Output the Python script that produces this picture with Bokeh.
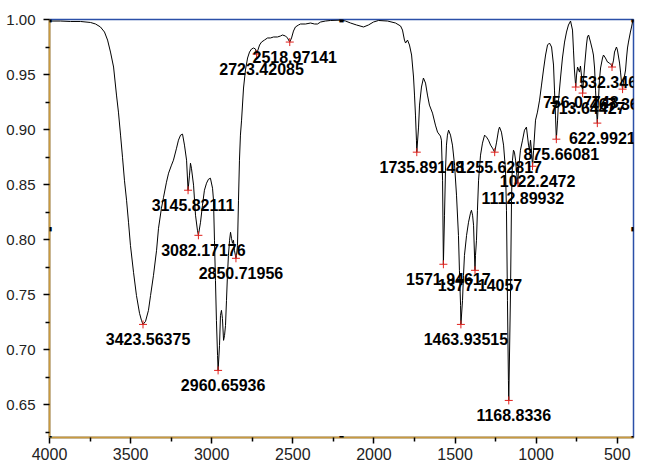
from bokeh.plotting import figure
from bokeh.models import Range1d, FixedTicker, PrintfTickFormatter, Label
from bokeh.core.properties import value
from bokeh.embed import file_html
from bokeh.resources import INLINE

# ---- spectrum (wavenumber in cm-1, transmittance) ----
wavenumber = [
    4000, 3932, 3871, 3809, 3747, 3716, 3686, 3661, 3642, 3624, 3605, 3587, 3575, 3562, 3550,
    3538, 3525, 3513, 3501, 3482, 3464, 3445, 3433, 3423.56, 3408, 3390, 3377, 3359, 3340, 3328,
    3310, 3297, 3279, 3266, 3248, 3236, 3217, 3205, 3192, 3180, 3168, 3155, 3145.82, 3137, 3131,
    3125, 3112, 3100, 3088, 3082.17, 3069, 3057, 3045, 3032, 3020, 3008, 2995, 2989, 2983, 2977,
    2971, 2964, 2960.66, 2952, 2946, 2940, 2934, 2927, 2921, 2915, 2909, 2903, 2897, 2890, 2884,
    2878, 2872, 2866, 2860, 2850.72, 2847, 2841, 2835, 2829, 2823, 2816, 2804, 2792, 2779, 2767,
    2755, 2742, 2730, 2723.42, 2705, 2693, 2675, 2656, 2638, 2619, 2595, 2576, 2564, 2545, 2533,
    2518.97, 2508, 2496, 2484, 2465, 2453, 2422, 2391, 2366, 2348, 2329, 2299, 2268, 2206, 2175,
    2144, 2107, 2064, 2034, 2003, 1972, 1916, 1867, 1836, 1824, 1812, 1805, 1793, 1781, 1768,
    1756, 1750, 1744, 1738, 1735.89, 1725, 1719, 1707, 1695, 1682, 1670, 1658, 1639, 1621, 1608,
    1590, 1584, 1577, 1571.95, 1565, 1559, 1553, 1547, 1540, 1528, 1516, 1503, 1491, 1479, 1473,
    1466, 1463.94, 1454, 1448, 1442, 1429, 1417, 1405, 1399, 1392, 1386, 1377.14, 1374, 1368, 1362,
    1355, 1343, 1331, 1318, 1306, 1294, 1281, 1269, 1255.63, 1244, 1232, 1226, 1214, 1201, 1189,
    1183, 1177, 1171, 1168.83, 1158, 1152, 1146, 1140, 1134, 1127, 1121, 1112.9, 1109, 1097, 1084,
    1072, 1060, 1047, 1041, 1035, 1029, 1022.25, 1016, 1004, 992, 979, 967, 955, 942, 930,
    918, 905, 893, 887, 881, 875.66, 868, 862, 850, 838, 825, 813, 801, 788, 776,
    770, 764, 756.08, 751, 745, 733, 727, 721, 713.64, 708, 702, 690, 684, 677, 665,
    653, 647, 640, 634, 628, 622.99, 616, 610, 603, 591, 585, 573, 560, 548, 536,
    532.35, 523, 517, 505, 499, 493, 486, 480, 474, 467.36, 462, 449, 443, 437, 431,
    419, 412, 406, 400,
]
transmittance = [
    0.9986, 0.9986, 0.9982, 0.9982, 0.9973, 0.9959, 0.9932, 0.9886, 0.9813, 0.9704, 0.9568, 0.9313, 0.9158, 0.8949, 0.8748,
    0.8539, 0.8357, 0.8157, 0.7947, 0.7702, 0.7492, 0.7329, 0.7265, 0.7228, 0.7256, 0.7356, 0.7492, 0.7675, 0.7902, 0.8102,
    0.8284, 0.8384, 0.8521, 0.8603, 0.8676, 0.8721, 0.8830, 0.8903, 0.8949, 0.8958, 0.8858, 0.8721, 0.8448, 0.8585, 0.8694,
    0.8648, 0.8494, 0.8221, 0.8084, 0.8038, 0.8157, 0.8312, 0.8448, 0.8512, 0.8548, 0.8557, 0.8466, 0.8357, 0.7993, 0.7629,
    0.7265, 0.6946, 0.6810, 0.7037, 0.7310, 0.7356, 0.7283, 0.7083, 0.7128, 0.7219, 0.7447, 0.7675, 0.7856, 0.7993, 0.8066,
    0.8011, 0.7966, 0.7993, 0.7902, 0.7829, 0.7856, 0.7947, 0.8357, 0.8721, 0.8949, 0.9085, 0.9377, 0.9541, 0.9650, 0.9704,
    0.9731, 0.9741, 0.9731, 0.9686, 0.9768, 0.9795, 0.9813, 0.9832, 0.9832, 0.9841, 0.9841, 0.9850, 0.9859, 0.9850, 0.9832,
    0.9795, 0.9832, 0.9895, 0.9932, 0.9950, 0.9959, 0.9959, 0.9968, 0.9959, 0.9959, 0.9977, 0.9986, 0.9991, 0.9995, 0.9986,
    0.9968, 0.9950, 0.9932, 0.9950, 0.9977, 0.9991, 0.9986, 0.9968, 0.9941, 0.9904, 0.9813, 0.9786, 0.9813, 0.9768, 0.9677,
    0.9477, 0.9313, 0.9131, 0.8903, 0.8794, 0.9022, 0.9222, 0.9386, 0.9468, 0.9422, 0.9313, 0.9222, 0.9149, 0.9040, 0.8976,
    0.8940, 0.8903, 0.8539, 0.7775, 0.8221, 0.8630, 0.8858, 0.8949, 0.8994, 0.8949, 0.8858, 0.8676, 0.8403, 0.8038, 0.7720,
    0.7401, 0.7228, 0.7447, 0.7675, 0.7856, 0.8038, 0.8157, 0.8239, 0.8266, 0.8221, 0.8130, 0.7720, 0.7856, 0.7993, 0.8266,
    0.8539, 0.8767, 0.8876, 0.8949, 0.8931, 0.8903, 0.8858, 0.8830, 0.8794, 0.8885, 0.8994, 0.9022, 0.8976, 0.8858, 0.8630,
    0.8266, 0.7447, 0.6719, 0.6537, 0.7538, 0.8357, 0.8721, 0.8812, 0.8794, 0.8721, 0.8612, 0.8512, 0.8630, 0.8812, 0.8903,
    0.8994, 0.9022, 0.8858, 0.8812, 0.8903, 0.8812, 0.8666, 0.8812, 0.9085, 0.9158, 0.9267, 0.9404, 0.9541, 0.9677, 0.9768,
    0.9786, 0.9750, 0.9586, 0.9358, 0.9131, 0.8912, 0.9085, 0.9267, 0.9468, 0.9650, 0.9795, 0.9886, 0.9950, 0.9986, 0.9904,
    0.9722, 0.9541, 0.9386, 0.9495, 0.9568, 0.9522, 0.9577, 0.9495, 0.9331, 0.9449, 0.9568, 0.9768, 0.9841, 0.9859, 0.9795,
    0.9722, 0.9677, 0.9559, 0.9358, 0.9176, 0.9058, 0.9267, 0.9449, 0.9559, 0.9650, 0.9677, 0.9650, 0.9613, 0.9604, 0.9586,
    0.9568, 0.9631, 0.9704, 0.9750, 0.9722, 0.9668, 0.9604, 0.9522, 0.9431, 0.9367, 0.9431, 0.9541, 0.9650, 0.9741, 0.9795,
    0.9886, 0.9932, 0.9977, 0.9995,
]

# ---- picked peaks ----
peak_wavenumber = [3423.56375, 3145.82111, 3082.17176, 2960.65936, 2850.71956, 2723.42085, 2518.97141,
                   1735.89148, 1571.94617, 1463.93515, 1377.14057, 1255.62817, 1168.8336, 1112.89932,
                   1022.2472, 875.66081, 756.07748, 713.64427, 622.9921, 532.34646, 467.36127]
peak_transmittance = [0.7228, 0.8448, 0.8038, 0.6810, 0.7829, 0.9686, 0.9795,
                      0.8794, 0.7775, 0.7228, 0.7720, 0.8794, 0.6537, 0.8512,
                      0.8666, 0.8912, 0.9386, 0.9331, 0.9058, 0.9568, 0.9367]
peak_labels = ["3423.56375", "3145.82111", "3082.17176", "2960.65936", "2850.71956", "2723.42085", "2518.97141",
               "1735.89148", "1571.94617", "1463.93515", "1377.14057", "1255.62817", "1168.8336", "1112.89932",
               "1022.2472", "875.66081", "756.07748", "713.64427", "622.9921", "532.34646", "467.36127"]

x_ticks = [4000, 3500, 3000, 2500, 2000, 1500, 1000, 500]
x_minor = [3750, 3250, 2750, 2250, 1750, 1250, 750]
y_ticks = [0.65, 0.70, 0.75, 0.80, 0.85, 0.90, 0.95, 1.00]
y_minor = [0.625, 0.675, 0.725, 0.775, 0.825, 0.875, 0.925, 0.975]

X_START, X_END = 4000, 400
Y_START, Y_END = 0.62, 1.00

FONT = "Liberation Sans"

p = figure(width=647, height=466,
           x_range=Range1d(X_START, X_END), y_range=Range1d(Y_START, Y_END),
           output_backend="svg", toolbar_location=None,
           min_border_left=49, min_border_right=14, min_border_top=19, min_border_bottom=29)

p.background_fill_color = "white"
p.border_fill_color = "white"
p.outline_line_color = "#2b4fa8"
p.outline_line_width = 1.5
p.xgrid.visible = False
p.ygrid.visible = False

p.xaxis.ticker = FixedTicker(ticks=x_ticks, minor_ticks=x_minor)
p.yaxis.ticker = FixedTicker(ticks=y_ticks, minor_ticks=y_minor)
p.yaxis.formatter = PrintfTickFormatter(format="%.2f")

for ax in (p.xaxis[0], p.yaxis[0]):
    ax.axis_line_color = "#c99a3e"
    ax.axis_line_width = 2
    ax.major_tick_line_color = "black"
    ax.minor_tick_line_color = "black"
    ax.major_tick_in = 0
    ax.major_tick_out = 6
    ax.minor_tick_in = 0
    ax.minor_tick_out = 4
    ax.major_tick_line_width = 1.5
    ax.minor_tick_line_width = 1.5
    ax.major_label_text_font = FONT
    ax.major_label_text_color = "#222222"
    ax.major_label_text_font_style = "normal"

p.xaxis.major_label_text_font_size = "16px"
p.xaxis.major_label_standoff = 4
p.yaxis.major_label_text_font_size = "15px"
p.yaxis.major_label_standoff = 8

p.line(wavenumber, transmittance, line_color="black", line_width=1)

p.scatter(peak_wavenumber, peak_transmittance, marker="cross", size=8,
          line_color="#e0201c", line_width=1)

p.text(x=peak_wavenumber, y=peak_transmittance, text=peak_labels,
       x_offset=5, y_offset=15, text_align="center", text_baseline="middle",
       text_font=value(FONT), text_font_style="bold", text_font_size="16px",
       text_color="black")

# small black handles on the frame (corners and mid-sides)
x_mid = (X_START + X_END) / 2
y_mid = (Y_START + Y_END) / 2
for hx, hy in [(X_START, Y_END), (x_mid, Y_END), (X_END, Y_END),
               (X_START, y_mid), (X_END, y_mid),
               (X_START, Y_START), (x_mid, Y_START), (X_END, Y_START)]:
    p.add_layout(Label(x=hx, y=hy, text="\u25a0", text_align="center",
                       text_baseline="middle", text_font_size="9px",
                       text_color="black"))

open("out.html", "w").write(file_html(p, INLINE))
